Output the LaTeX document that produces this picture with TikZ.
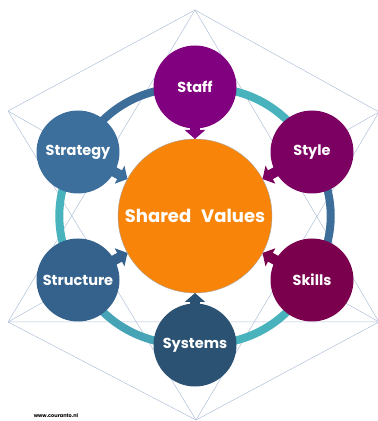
\documentclass[tikz,border=0pt]{standalone}
\usepackage{fontspec}
\setmainfont{Poppins}
\usetikzlibrary{arrows.meta,backgrounds}

\definecolor{staffc}{HTML}{800080}
\definecolor{stylec}{HTML}{7C0062}
\definecolor{skillsc}{HTML}{7A004E}
\definecolor{systemsc}{HTML}{2B5272}
\definecolor{structc}{HTML}{34628C}
\definecolor{stratc}{HTML}{3D6F9D}
\definecolor{ringblue}{HTML}{3D6E9A}
\definecolor{ringteal}{HTML}{48B2BD}
\definecolor{valuesc}{HTML}{F8850A}
\definecolor{gridc}{HTML}{AFC0D8}

\begin{document}
\begin{tikzpicture}[x=1pt,y=1pt,
    sat/.style={circle,minimum size=83pt,inner sep=0pt,outer sep=0pt,
      text=white,font=\fontsize{14.5}{14.5}\selectfont\bfseries},
    push/.style={line width=10pt,shorten <=-6pt,-{Triangle[width=20pt,length=9pt]}},
    ring/.style={line width=8pt,bend left=30},
    grid/.style={gridc,line width=0.5pt}]

          \useasboundingbox (0,0) rectangle (378,421);

          % hexagon corners
          \coordinate (T) at (195,411);
          \coordinate (UL) at (8,310);
          \coordinate (UR) at (379,309);
          \coordinate (LL) at (8,99);
          \coordinate (LR) at (379,99);
          \coordinate (B) at (196,1);

          \node[circle,minimum size=154pt,inner sep=0pt,outer sep=0pt,
            fill=valuesc,draw=gray!70,line width=0.4pt,text=white,
            font=\fontsize{18}{18}\selectfont\bfseries] (values) at (195,205)
            {Shared\hspace{0.55em}Values};

          \node[sat,fill=staffc] (staff) at (195,334) {Staff};
          \node[sat,fill=stylec] (style) at (312,269) {Style};
          \node[sat,fill=skillsc] (skills) at (312,141) {Skills};
          \node[sat,fill=systemsc] (systems) at (195,76) {Systems};
          \node[sat,fill=structc] (structure) at (78,141) {Structure};
          \node[sat,fill=stratc] (strategy) at (78,269) {Strategy};

          \begin{pgfonlayer}{background}
            \draw[grid] (UL) -- (T) -- (UR);
            \draw[grid] (LL) -- (B) -- (LR) -- (LL);
            \draw[grid] (LL) -- (T) -- (LR);
            \draw[grid] (UL) -- (B) -- (UR);
            \draw[grid] (UL) -- (LR);
            \draw[grid] (UR) -- (LL);

            \draw[ring,ringteal] (staff.center) to (style.center);
            \draw[ring,ringblue] (style.center) to (skills.center);
            \draw[ring,ringteal] (skills.center) to (systems.center);
            \draw[ring,ringteal!80!ringblue] (systems.center) to (structure.center);
            \draw[ring,ringteal] (structure.center) to (strategy.center);
            \draw[ring,ringblue] (strategy.center) to (staff.center);
          \end{pgfonlayer}

          \draw[push,staffc] (staff) -- (values);
          \draw[push,stylec] (style) -- (values);
          \draw[push,skillsc] (skills) -- (values);
          \draw[push,systemsc] (systems) -- (values);
          \draw[push,structc] (structure) -- (values);
          \draw[push,stratc] (strategy) -- (values);

          \node[font=\fontsize{5}{5}\selectfont\bfseries] (site) at (56,5) {www.couranto.nl};

        \end{tikzpicture}
\end{document}
